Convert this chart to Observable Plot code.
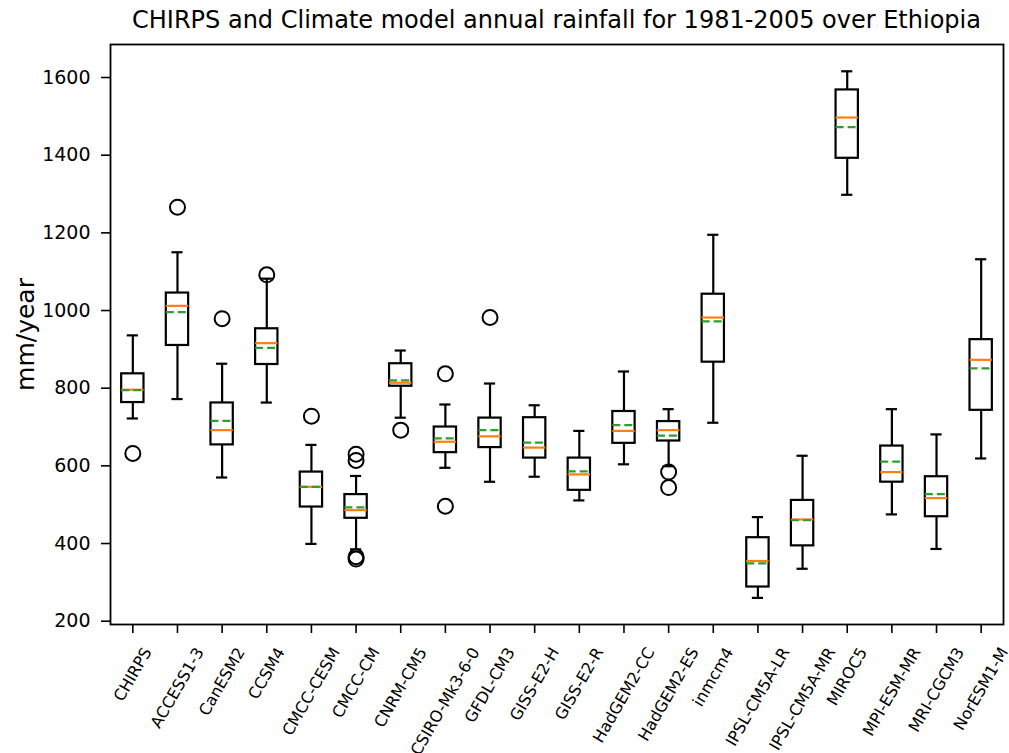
<!DOCTYPE html>
<html><head><meta charset="utf-8">
<script src="https://cdn.jsdelivr.net/npm/d3@7"></script>
<script src="https://cdn.jsdelivr.net/npm/@observablehq/plot@0.6"></script>
<style>
body{margin:0;background:#fff;}
#wrap{position:relative;width:1009px;height:753px;font-family:"DejaVu Sans",sans-serif;}
#title{position:absolute;left:110px;width:893px;top:6px;text-align:center;font-size:24px;color:#000;white-space:nowrap;}
</style></head>
<body><div id="wrap"><div id="title">CHIRPS and Climate model annual rainfall for 1981-2005 over Ethiopia</div></div>
<script>
const models = ["CHIRPS","ACCESS1-3","CanESM2","CCSM4","CMCC-CESM","CMCC-CM","CNRM-CM5","CSIRO-Mk3-6-0","GFDL-CM3","GISS-E2-H","GISS-E2-R","HadGEM2-CC","HadGEM2-ES","inmcm4","IPSL-CM5A-LR","IPSL-CM5A-MR","MIROC5","MPI-ESM-MR","MRI-CGCM3","NorESM1-M"];
const whiskerLow  = [722, 772, 570, 763, 399, 385, 724, 595, 559, 572, 511, 604, 599, 711, 260, 335, 1298, 475, 386, 619];
const q1          = [763, 910, 654, 861, 494, 465, 805, 634, 647, 620, 537, 658, 664, 867, 288, 394, 1392, 558, 469, 743];
const median      = [796, 1012, 692, 916, 546, 486, 814, 662, 676, 647, 578, 690, 692, 982, 355, 462, 1497, 584, 517, 873];
const mean        = [795, 996, 716, 904, 546, 493, 820, 671, 692, 660, 586, 705, 678, 972, 349, 460, 1472, 611, 527, 851];
const q3          = [837, 1045, 762, 953, 584, 526, 863, 700, 723, 724, 620, 740, 714, 1042, 415, 511, 1568, 651, 572, 925];
const whiskerHigh = [936, 1150, 863, 1082, 654, 574, 897, 758, 812, 756, 690, 843, 746, 1195, 468, 626, 1616, 746, 681, 1132];
const outlierModel = ["CHIRPS","ACCESS1-3","CanESM2","CCSM4","CMCC-CESM","CMCC-CM","CMCC-CM","CMCC-CM","CMCC-CM","CNRM-CM5","CSIRO-Mk3-6-0","CSIRO-Mk3-6-0","GFDL-CM3","HadGEM2-ES","HadGEM2-ES"];
const outlierValue = [632, 1266, 979, 1092, 728, 630, 614, 366, 360, 692, 837, 496, 982, 584, 544];
const yTicks = [200, 400, 600, 800, 1000, 1200, 1400, 1600];
const yDomain = [191.5, 1685];

const stats = models.map((m, i) => ({model: m, lo: whiskerLow[i], q1: q1[i], med: median[i], mean: mean[i], q3: q3[i], hi: whiskerHigh[i]}));
const outliers = outlierModel.map((m, i) => ({model: m, value: outlierValue[i]}));

const W = 1009, H = 753, mL = 110, mR = 6, mT = 44, mB = 129;
const step = (W - mL - mR) / models.length;
const bw = step * 0.5;
const capInset = bw / 4;
const tickFont = 16;
const ang = 60;

const ctx = document.createElement("canvas").getContext("2d");
ctx.font = `${tickFont}px "DejaVu Sans"`;
const rad = ang * Math.PI / 180;
const labelMarks = models.map(m => {
  const w = ctx.measureText(m).width;
  const hgt = w * Math.sin(rad) + tickFont * 0.9 * Math.cos(rad);
  return Plot.text([m], {x: d => d, text: d => d, frameAnchor: "bottom", rotate: -ang, textAnchor: "middle", lineAnchor: "middle", dy: 21 + hgt / 2, fontSize: tickFont, fill: "black"});
});

const chart = Plot.plot({
  width: W, height: H,
  marginLeft: mL, marginRight: mR, marginTop: mT, marginBottom: mB,
  style: {fontFamily: "DejaVu Sans, sans-serif", background: "white", color: "black", overflow: "visible"},
  x: {type: "band", domain: models, paddingInner: 0.5, paddingOuter: 0.25, round: false, label: null},
  y: {domain: yDomain, label: null},
  marks: [
    Plot.axisY({ticks: yTicks, tickFormat: d => String(d), tickSize: 9, tickPadding: 11, fontSize: 19, strokeWidth: 1.6, label: null}),
    Plot.axisX({tickSize: 9, tickFormat: () => "", strokeWidth: 1.6, label: null}),
    Plot.ruleX(stats, {x: "model", y1: "lo", y2: "q1", stroke: "black", strokeWidth: 2.2}),
    Plot.ruleX(stats, {x: "model", y1: "q3", y2: "hi", stroke: "black", strokeWidth: 2.2}),
    Plot.tickY(stats, {x: "model", y: "lo", stroke: "black", strokeWidth: 2.2, insetLeft: capInset, insetRight: capInset}),
    Plot.tickY(stats, {x: "model", y: "hi", stroke: "black", strokeWidth: 2.2, insetLeft: capInset, insetRight: capInset}),
    Plot.barY(stats, {x: "model", y1: "q1", y2: "q3", fill: "none", stroke: "black", strokeWidth: 2.2}),
    Plot.tickY(stats, {x: "model", y: "med", stroke: "#ff7f0e", strokeWidth: 2.2}),
    Plot.tickY(stats, {x: "model", y: "mean", stroke: "#2ca02c", strokeWidth: 2.2, strokeDasharray: "8,4"}),
    Plot.dot(outliers, {x: "model", y: "value", r: 7.5, stroke: "black", strokeWidth: 2, fill: "none"}),
    Plot.frame({stroke: "black", strokeWidth: 1.8}),
    Plot.text(["mm/year"], {text: d => d, frameAnchor: "left", rotate: -90, dx: -85, fontSize: 25, fill: "black", textAnchor: "middle"}),
    ...labelMarks
  ]
});
document.getElementById("wrap").appendChild(chart);
</script>
</body></html>
